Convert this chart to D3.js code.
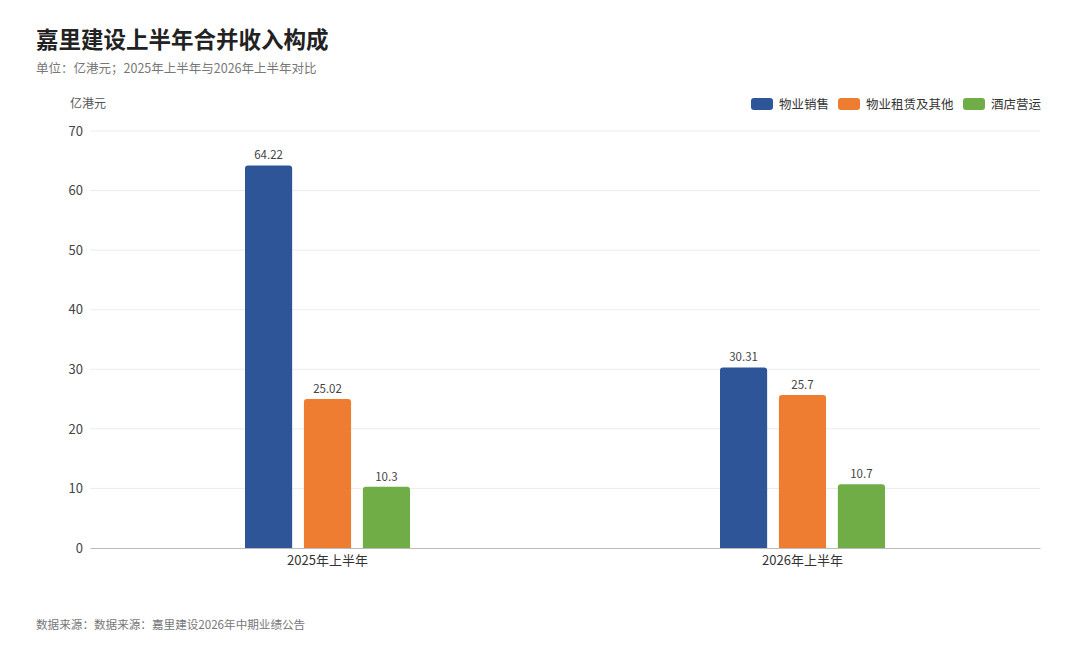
<!DOCTYPE html>
<html>
<head>
<meta charset="utf-8">
<script src="https://cdn.jsdelivr.net/npm/d3@7/dist/d3.min.js"></script>
<style>
    body { margin: 0; background: #fff; }
    svg { display: block; font-family: "Noto Sans CJK SC", "Noto Sans", sans-serif; }
</style>
</head>
<body>
<svg class="chart"></svg>
<script>
const PERIODS = ["2025年上半年", "2026年上半年"];
const SERIES = ["物业销售", "物业租赁及其他", "酒店营运"];
const SALES = [64.22, 30.31];
const LEASING = [25.02, 25.7];
const HOTEL = [10.3, 10.7];
const Y_TICKS = [0, 10, 20, 30, 40, 50, 60, 70];

const colors = ["#2d5597", "#ee7d31", "#70ad47"];

const WIDTH = 1080, HEIGHT = 648;
const margins = { top: 131, right: 40, bottom: 100, left: 90 };
const innerW = WIDTH - margins.left - margins.right;
const innerH = HEIGHT - margins.top - margins.bottom;

const values = [SALES, LEASING, HOTEL];
const rows = PERIODS.map((p, i) => ({
    period: p,
    items: SERIES.map((s, j) => ({ series: s, value: values[j][i], color: colors[j] }))
}));

var svg = d3.select('.chart')
    .attr('width', WIDTH)
    .attr('height', HEIGHT);

// title block
svg.append('text')
    .attr('x', 36).attr('y', 48)
    .attr('font-size', 22.5).attr('font-weight', 700)
    .attr('fill', '#222')
    .text('嘉里建设上半年合并收入构成');

svg.append('text')
    .attr('x', 36).attr('y', 73)
    .attr('font-size', 12.5).attr('fill', '#777')
    .text('单位：亿港元；2025年上半年与2026年上半年对比');

svg.append('text')
    .attr('x', 70).attr('y', 108)
    .attr('font-size', 12).attr('fill', '#555')
    .text('亿港元');

svg.append('text')
    .attr('x', 36).attr('y', 629)
    .attr('font-size', 11.6).attr('fill', '#777')
    .text('数据来源：数据来源：嘉里建设2026年中期业绩公告');

var x0 = d3.scaleBand()
    .domain(PERIODS)
    .range([0, innerW]);

var x1 = d3.scaleBand()
    .domain(SERIES)
    .range([0, 165])
    .paddingInner(0.2);

var y = d3.scaleLinear()
    .domain([0, 70])
    .range([innerH, 0]);

var g = svg.append('g')
    .attr('transform', 'translate(' + margins.left + ',' + margins.top + ')');

// grid
g.selectAll('.grid')
    .data(Y_TICKS.filter(d => d > 0))
    .enter()
    .append('line')
    .attr('x1', 0).attr('x2', innerW)
    .attr('y1', d => y(d)).attr('y2', d => y(d))
    .attr('stroke', '#ececec')
    .attr('stroke-width', 1);

var yAxis = g.append('g')
    .call(d3.axisLeft(y).tickValues(Y_TICKS).tickSize(0).tickPadding(7));
yAxis.select('.domain').remove();
yAxis.selectAll('text').attr('font-size', 13).attr('fill', '#444')
    .attr('font-family', '"Noto Sans CJK SC", sans-serif');

var xAxis = g.append('g')
    .attr('transform', 'translate(0,' + innerH + ')')
    .call(d3.axisBottom(x0).tickSize(0).tickPadding(8));
xAxis.select('.domain').attr('stroke', '#bbb');
xAxis.selectAll('text').attr('font-size', 13).attr('fill', '#333')
    .attr('font-family', '"Noto Sans CJK SC", sans-serif');

function topRounded(x, yTop, w, h, r) {
    return 'M' + x + ',' + (yTop + h) +
        'V' + (yTop + r) +
        'Q' + x + ',' + yTop + ' ' + (x + r) + ',' + yTop +
        'H' + (x + w - r) +
        'Q' + (x + w) + ',' + yTop + ' ' + (x + w) + ',' + (yTop + r) +
        'V' + (yTop + h) + 'Z';
}

var groups = g.selectAll('.grp')
    .data(rows)
    .enter()
    .append('g')
    .attr('transform', d => 'translate(' + (x0(d.period) + x0.bandwidth() / 2 - 82.5) + ',0)');

groups.selectAll('path')
    .data(d => d.items)
    .enter()
    .append('path')
    .attr('d', d => topRounded(x1(d.series), y(d.value), x1.bandwidth(), innerH - y(d.value), 3))
    .attr('fill', d => d.color);

groups.selectAll('.lbl')
    .data(d => d.items)
    .enter()
    .append('text')
    .attr('x', d => x1(d.series) + x1.bandwidth() / 2)
    .attr('y', d => y(d.value) - 6)
    .attr('text-anchor', 'middle')
    .attr('font-size', 11.5).attr('fill', '#444')
    .text(d => d.value);

// legend
const legendX = [751, 838, 963];
var legend = svg.selectAll('.legend')
    .data(SERIES)
    .enter()
    .append('g')
    .attr('transform', (d, i) => 'translate(' + legendX[i] + ',98)');

legend.append('rect')
    .attr('width', 22).attr('height', 12).attr('rx', 3)
    .attr('fill', (d, i) => colors[i]);

legend.append('text')
    .attr('x', 28).attr('y', 11)
    .attr('font-size', 12.5).attr('fill', '#333')
    .text(d => d);
</script>
</body>
</html>
